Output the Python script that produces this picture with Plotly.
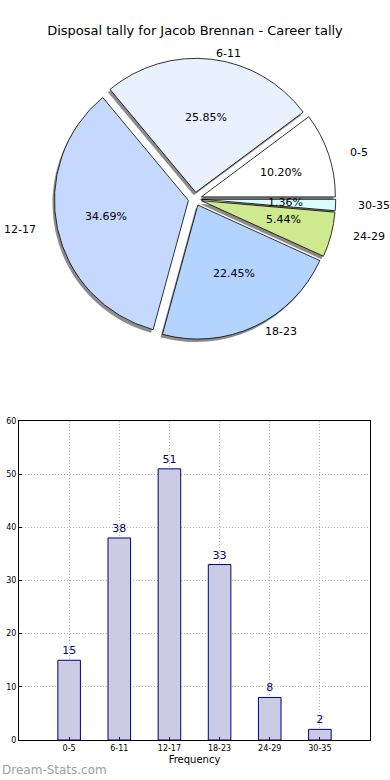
import numpy as np
import plotly.graph_objects as go

# ---- data ----
categories = ["0-5", "6-11", "12-17", "18-23", "24-29", "30-35"]
counts = [15, 38, 51, 33, 8, 2]
slice_colors = ["#ffffff", "#e9f1ff", "#c5d9ff", "#b3d4fe", "#cfea8e", "#d9feff"]
title_text = "Disposal tally for Jacob Brennan - Career tally"
x_title = "Frequency"
watermark = "Dream-Stats.com"
y_ticks = [0, 10, 20, 30, 40, 50, 60]

W, H = 390, 780
FONT = "DejaVu Sans"

# pie geometry (pixels)
cx, cy = 195, 199
R = 134
PULL = 0.05
half = R * (1 + PULL)
RX, RY = 140, 127   # text layout radii (the original pie was slightly elliptical)
D = 190             # half-size of the text-layout box


def px_dom_x(a, b):
    return [a / W, b / W]


def px_dom_y(top, bottom):
    return [1 - bottom / H, 1 - top / H]


def py(y):
    return 1 - y / H


pie_dx = px_dom_x(cx - half, cx + half)
pie_dy = px_dom_y(cy - half, cy + half)
shadow_dx = px_dom_x(cx - half - 2, cx + half - 2)
shadow_dy = px_dom_y(cy - half + 3, cy + half + 3)
txt_dx = px_dom_x(cx - D, cx + D)
txt_dy = px_dom_y(cy - D, cy + D)

vals = np.array(counts, dtype=float)
frac = vals / vals.sum()
rot = 90 - 360 * frac[0]   # first slice starts at 3 o'clock, counter-clockwise

fig = go.Figure()

# shadow
fig.add_trace(go.Pie(
    values=counts, labels=categories, sort=False, direction="counterclockwise",
    rotation=rot, pull=[PULL] * len(counts),
    marker=dict(colors=["#8c8c8c"] * len(counts), line=dict(width=0)),
    textinfo="none", hoverinfo="skip", showlegend=False,
    domain=dict(x=shadow_dx, y=shadow_dy),
))
# main pie
fig.add_trace(go.Pie(
    values=counts, labels=categories, sort=False, direction="counterclockwise",
    rotation=rot, pull=[PULL] * len(counts),
    marker=dict(colors=slice_colors, line=dict(color="#000000", width=0.8)),
    textinfo="none", showlegend=False,
    domain=dict(x=pie_dx, y=pie_dy),
))

# text positions derived from the values (matplotlib-like layout)
ends = np.cumsum(frac) * 2 * np.pi
starts = ends - frac * 2 * np.pi
mids = (starts + ends) / 2
pct_x = (0.6 + PULL) * np.cos(mids)
pct_y = (0.6 + PULL) * np.sin(mids)
lab_x = (1.1 + PULL) * np.cos(mids)
lab_y = (1.1 + PULL) * np.sin(mids)
pct_text = [f"{p*100:.2f}%" for p in frac]

annotations = []
for x, y, t in zip(pct_x, pct_y, pct_text):
    annotations.append(dict(x=x, y=y, xref="x2", yref="y2", text=t, showarrow=False,
                            xanchor="center", yanchor="middle",
                            font=dict(family=FONT, size=11, color="#000000")))
for x, y, t in zip(lab_x, lab_y, categories):
    annotations.append(dict(x=x, y=y, xref="x2", yref="y2", text=t, showarrow=False,
                            xanchor="left" if x > 0 else "right", yanchor="middle",
                            font=dict(family=FONT, size=11, color="#000000")))
annotations.append(dict(text=watermark, x=0, y=py(770), xref="paper", yref="paper",
                        xanchor="left", yanchor="middle", showarrow=False,
                        font=dict(family=FONT, size=12, color="#a0a0a0")))

# bar chart
fig.add_trace(go.Bar(
    x=categories, y=counts, width=0.45,
    marker=dict(color="#cbcbe3", line=dict(color="#000080", width=1)),
    text=[str(c) for c in counts], textposition="outside",
    textfont=dict(family=FONT, size=11, color="#000080"),
    cliponaxis=False, showlegend=False, xaxis="x", yaxis="y",
))

grid = dict(showgrid=True, gridcolor="#b4b4b4", griddash="1px,2px", gridwidth=1)
fig.update_layout(
    width=W, height=H, margin=dict(l=0, r=0, t=0, b=0),
    paper_bgcolor="white", plot_bgcolor="white",
    font=dict(family=FONT, color="#000000"),
    title=dict(text=title_text, x=195 / W, xanchor="center", y=py(30), yanchor="middle",
               font=dict(family=FONT, size=13, color="#000000")),
    xaxis=dict(domain=px_dom_x(19, 370), range=[-1, 6], type="category",
               showline=True, linecolor="#000000", linewidth=1, mirror=True,
               ticks="inside", ticklen=3, tickcolor="#000000",
               tickfont=dict(family=FONT, size=8, color="#000000"),
               title=dict(text=x_title, font=dict(family=FONT, size=10), standoff=4),
               zeroline=False, fixedrange=True, automargin=False, **grid),
    yaxis=dict(domain=px_dom_y(421, 740), range=[0, 60], tickvals=y_ticks,
               showline=True, linecolor="#000000", linewidth=1, mirror=True,
               ticks="inside", ticklen=3, tickcolor="#000000",
               tickfont=dict(family=FONT, size=8, color="#000000"),
               zeroline=False, fixedrange=True, automargin=False, **grid),
    xaxis2=dict(domain=txt_dx, range=[-D / RX, D / RX], visible=False, fixedrange=True),
    yaxis2=dict(domain=txt_dy, range=[-D / RY, D / RY], visible=False, fixedrange=True),
    annotations=annotations,
)

fig.write_html("out.html", config={"displayModeBar": False},
               post_script="document.body.style.margin='0';")
